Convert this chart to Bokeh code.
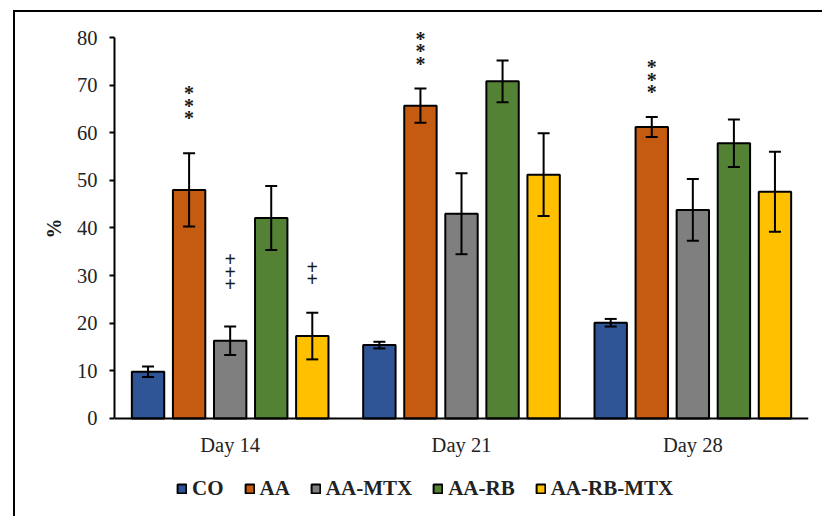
from bokeh.plotting import figure
from bokeh.models import (ColumnDataSource, FactorRange, Whisker, Legend, LegendItem, Range1d, Title)
from bokeh.transform import dodge
from bokeh.core.properties import value
from bokeh.embed import file_html
from bokeh.resources import INLINE

days = ["Day 14", "Day 21", "Day 28"]
series = ["CO", "AA", "AA-MTX", "AA-RB", "AA-RB-MTX"]
colors = ["#2F5597", "#C55A11", "#7F7F7F", "#548235", "#FFC000"]

co = [9.8, 15.4, 20.1]
aa = [48.0, 65.7, 61.2]
aa_mtx = [16.3, 43.0, 43.8]
aa_rb = [42.1, 70.8, 57.8]
aa_rb_mtx = [17.3, 51.2, 47.6]

co_err = [1.1, 0.7, 0.8]
aa_err = [7.7, 3.6, 2.1]
aa_mtx_err = [3.0, 8.5, 6.5]
aa_rb_err = [6.7, 4.4, 5.0]
aa_rb_mtx_err = [4.9, 8.7, 8.4]

y_ticks = [0, 10, 20, 30, 40, 50, 60, 70, 80]
y_label = "%"

# significance marks: day, series, symbol, count, gap above error-bar top
ann_day = ["Day 14", "Day 21", "Day 28", "Day 14", "Day 14"]
ann_series = ["AA", "AA", "AA", "AA-MTX", "AA-RB-MTX"]
ann_symbol = ["*", "*", "*", "+", "+"]
ann_count = [3, 3, 3, 3, 2]
ann_gap = [8.0, 5.8, 5.8, 8.9, 7.0]

vals = [co, aa, aa_mtx, aa_rb, aa_rb_mtx]
errs = [co_err, aa_err, aa_mtx_err, aa_rb_err, aa_rb_mtx_err]

FONT = "Liberation Serif"
step = 0.1775
offsets = [(i - 2) * step for i in range(5)]

p = figure(x_range=FactorRange(*days), y_range=Range1d(-20.6, 84),
           width=809, height=506, output_backend="svg", toolbar_location=None,
           min_border_left=99, min_border_right=16, min_border_top=6, min_border_bottom=2)
p.margin = (12, 0, 0, 15)
p.styles = {"box-shadow": "-2px -2px 0px 0px black"}
p.outline_line_color = None
p.xgrid.grid_line_color = None
p.ygrid.grid_line_color = None
p.background_fill_color = "white"
p.border_fill_color = "white"

renderers = []
for i, name in enumerate(series):
    v = vals[i]
    e = errs[i]
    src = ColumnDataSource(dict(day=days, top=v,
                                upper=[a + b for a, b in zip(v, e)],
                                lower=[a - b for a, b in zip(v, e)]))
    r = p.vbar(x=dodge("day", offsets[i], range=p.x_range), top="top", bottom=0, width=0.14,
               source=src, fill_color=colors[i], line_color="black", line_width=2)
    renderers.append(r)
    w = Whisker(base=dodge("day", offsets[i], range=p.x_range), upper="upper", lower="lower",
                source=src, line_color="black", line_width=2, level="annotation")
    w.upper_head.size = 12
    w.lower_head.size = 12
    w.upper_head.line_width = 2
    w.lower_head.line_width = 2
    p.add_layout(w)

# significance symbols, stacked upward above the error bars
SYM_SHIFT = {"*": 3, "+": 0}
for s in sorted(set(ann_series), key=series.index):
    si = series.index(s)
    xs, ys, yo, tx = [], [], [], []
    for d, s2, sym, n, g in zip(ann_day, ann_series, ann_symbol, ann_count, ann_gap):
        if s2 != s:
            continue
        di = days.index(d)
        base = vals[si][di] + errs[si][di] + g
        for k in range(n):
            xs.append(d)
            ys.append(base)
            yo.append(SYM_SHIFT[sym] - k * 12.6)
            tx.append(sym)
    sub = ColumnDataSource(dict(day=xs, y=ys, yoff=yo, text=tx))
    p.text(x=dodge("day", offsets[si], range=p.x_range), y="y", text="text",
           y_offset="yoff", source=sub, text_font=value(FONT), text_font_size="20px",
           text_font_style="bold",
           text_align="center", text_baseline="alphabetic", text_color="#1a1a1a")

# axes
p.yaxis.ticker = y_ticks
p.yaxis.bounds = (0, 80)
p.yaxis.major_label_text_font = FONT
p.yaxis.major_label_text_font_size = "20.5px"
p.yaxis.major_label_text_color = "#222222"
p.yaxis.major_label_standoff = 12
p.yaxis.axis_line_width = 2
p.yaxis.major_tick_line_width = 2
p.yaxis.major_tick_out = 5
p.yaxis.major_tick_in = 0
p.yaxis.minor_tick_line_color = None

# y-axis title, centred on the 0-80 span of the axis
ytitle = Title(text=y_label, align="right", offset=200, vertical_align="bottom", standoff=17,
               text_font=FONT, text_font_style="bold", text_font_size="20px",
               text_color="#1a1a1a")
p.add_layout(ytitle, "left")

p.xaxis.fixed_location = 0
p.xaxis.axis_line_width = 2
p.xaxis.major_tick_line_color = None
p.xaxis.major_label_text_font = FONT
p.xaxis.major_label_text_font_size = "20.5px"
p.xaxis.major_label_text_color = "#222222"
p.xaxis.major_label_standoff = 10

legend = Legend(items=[LegendItem(label=s, renderers=[r]) for s, r in zip(series, renderers)],
                orientation="horizontal", location=(62, 15),
                glyph_width=11, glyph_height=11, label_standoff=5, spacing=20,
                padding=0, margin=0, border_line_color=None, background_fill_alpha=0,
                label_text_font=FONT, label_text_font_style="bold",
                label_text_font_size="21px", label_text_color="#222222")
p.add_layout(legend, "center")

open("out.html", "w").write(file_html(p, INLINE))
